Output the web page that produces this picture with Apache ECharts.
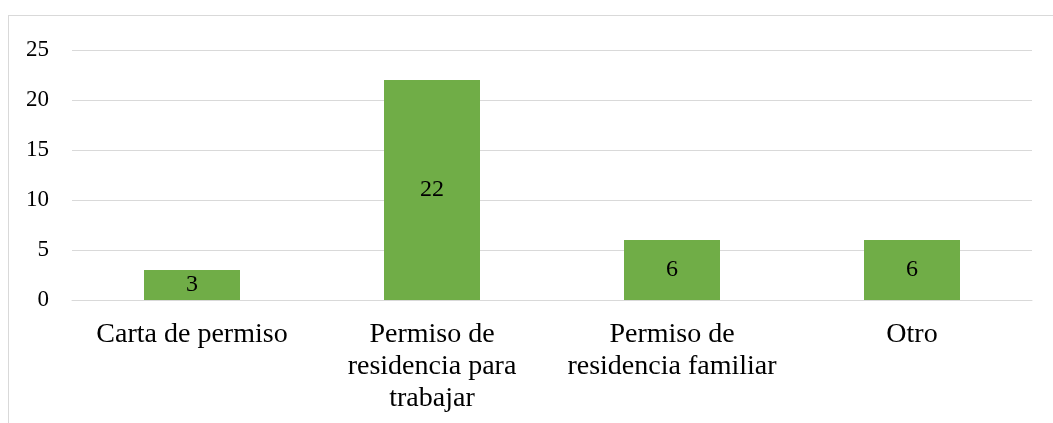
<!DOCTYPE html>
<html><head><meta charset="utf-8">
<script src="https://cdn.jsdelivr.net/npm/echarts@6/dist/echarts.min.js"></script>
<style>html,body{margin:0;padding:0;background:#fff}#c{width:1053px;height:423px;position:relative}
#frame{position:absolute;left:8px;top:15px;width:1100px;height:500px;border:1px solid #d9d9d9;box-sizing:border-box;pointer-events:none}</style>
</head><body><div id="c"></div><div id="frame" style="position:absolute"></div>
<script>
const categories = ["Carta de permiso", "Permiso de\nresidencia para\ntrabajar", "Permiso de\nresidencia familiar", "Otro"];
const values = [3, 22, 6, 6];
const yTicks = { min: 0, max: 25, interval: 5 };
const chart = echarts.init(document.getElementById('c'));
chart.setOption({
  animation: false,
  grid: { left: 72, right: 21, top: 50, bottom: 123 },
  xAxis: {
    type: 'category', data: categories,
    axisLine: { lineStyle: { color: '#d9d9d9', width: 1 } },
    axisTick: { show: false },
    axisLabel: { color: '#000', fontFamily: 'Liberation Serif', fontSize: 28, lineHeight: 32, margin: 19, interval: 0 }
  },
  yAxis: {
    type: 'value', min: yTicks.min, max: yTicks.max, interval: yTicks.interval,
    axisLine: { show: false }, axisTick: { show: false },
    splitLine: { lineStyle: { color: '#d9d9d9', width: 1 } },
    axisLabel: { color: '#000', fontFamily: 'Liberation Serif', fontSize: 23, margin: 23 }
  },
  series: [{
    type: 'bar', data: values, barWidth: '40%',
    itemStyle: { color: '#70AD47' },
    label: { show: true, position: 'inside', color: '#000', fontFamily: 'Liberation Serif', fontSize: 24 }
  }]
});
</script></body></html>
